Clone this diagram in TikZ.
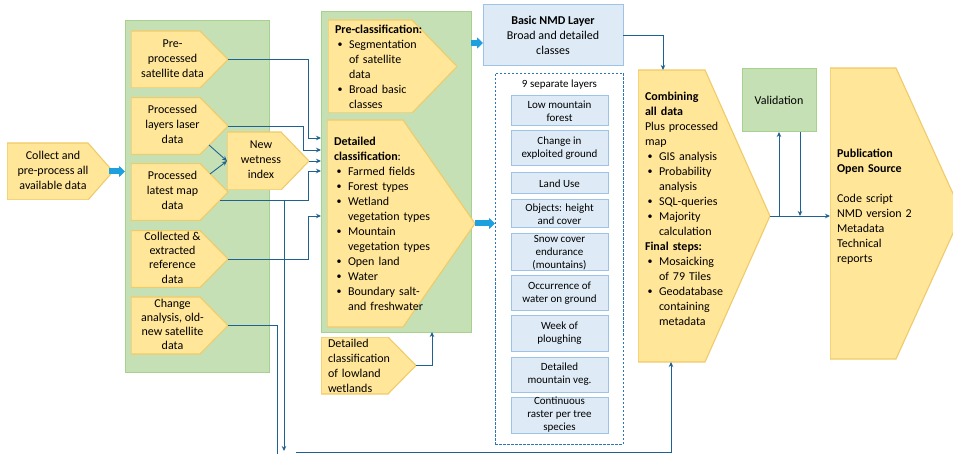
\documentclass[tikz,border=0pt]{standalone}
\usepackage{fontspec}
\setmainfont{Carlito}
\usepackage{xcolor}
\usepackage{tikz}
\usetikzlibrary{arrows.meta,positioning,calc}

\definecolor{yfill}{RGB}{255,230,153}
\definecolor{yline}{RGB}{240,203,105}
\definecolor{gfill}{RGB}{197,224,180}
\definecolor{gline}{RGB}{169,209,142}
\definecolor{bfill}{RGB}{222,235,247}
\definecolor{bline}{RGB}{157,195,230}
\definecolor{linkblue}{RGB}{31,98,145}
\definecolor{dashblue}{RGB}{46,117,182}
\definecolor{fatblue}{RGB}{30,160,222}

\newcommand{\bitem}{\makebox[14pt][l]{\hspace{2.5pt}\raisebox{0.8pt}{\fontsize{10}{10}\selectfont\textbullet}}}
\newcommand{\bcont}{\hspace*{14pt}}
\newcommand{\ltab}[1]{\begin{tabular}{@{}c@{\hspace{14pt}}}#1\end{tabular}}

\begin{document}
\begin{tikzpicture}[x=1pt,y=-1pt,>=Stealth,
  every node/.style={font=\fontsize{12}{15}\selectfont,outer sep=0pt},
  panel/.style={rectangle,fill=gfill,draw=gline,line width=1pt},
  bluebox/.style={rectangle,fill=bfill,draw=bline,line width=1pt,align=center},
  yarrow/.style={rectangle,inner xsep=7pt,inner ysep=0pt,
    path picture={\draw[fill=yfill,draw=yline,line width=1.1pt]
      (path picture bounding box.south west) -- (path picture bounding box.north west)
      -- ([xshift=-#1]path picture bounding box.north east) -- (path picture bounding box.east)
      -- ([xshift=-#1]path picture bounding box.south east) -- cycle;}},
  srcbox/.style={yarrow=28,minimum width=97,minimum height=57},
  layer/.style={bluebox,minimum width=97,inner sep=0pt,font=\fontsize{11}{13}\selectfont},
  link/.style={draw=linkblue,line width=0.9pt,-{Stealth[length=5pt,width=4.5pt]}},
  fat/.style={draw=fatblue,line width=6pt,-{Triangle[length=6pt,width=11pt]}}]
\useasboundingbox (0,0) rectangle (953,454);
\clip (0,0) rectangle (953,454);

% green panels
\node[panel,minimum width=144,minimum height=351] (inbox) at (197,196.5) {};
\node[panel,minimum width=150,minimum height=320] (clsbox) at (396,172) {};

% input data
\node[yarrow=25,minimum width=106,minimum height=57] (collect) at (60,171.5) {\ltab{Collect and\\pre-process all\\available data}};
\node[srcbox] (sat) at (179.5,59.5) {\ltab{Pre-\\processed\\satellite data}};
\node[srcbox] (laser) at (179.5,126) {\ltab{Processed\\layers laser\\data}};
\node[srcbox] (map) at (179.5,192) {\ltab{Processed\\latest map\\data}};
\node[srcbox,font=\fontsize{12}{14.2}\selectfont] (ref) at (179.5,259) {\ltab{Collected \&\\extracted\\reference\\data}};
\node[srcbox,font=\fontsize{12}{14.2}\selectfont] (change) at (179.5,325.5) {\ltab{Change\\analysis, old-\\new satellite\\data}};
\node[yarrow=28,minimum width=82,minimum height=58] (wet) at (268,161) {\ltab{New\\wetness\\index}};

% classification
\node[yarrow=45,minimum width=129,minimum height=93,text width=115,align=left] (precls) at (392.5,66.5)
  {\textbf{Pre-classification:}\\\bitem Segmentation\\\bcont of satellite\\\bcont data\\\bitem Broad basic\\\bcont classes};
\node[yarrow=72,minimum width=148,minimum height=207,text width=134,align=left] (detcls) at (401,223.5)
  {\textbf{Detailed}\\\textbf{classification}:\\\bitem Farmed fields\\\bitem Forest types\\\bitem Wetland\\\bcont vegetation types\\\bitem Mountain\\\bcont vegetation types\\\bitem Open land\\\bitem Water\\\bitem Boundary salt-\\\bcont and freshwater};
\node[yarrow=28,minimum width=95,minimum height=57,text width=81,align=left] (lowland) at (368.5,365.5)
  {Detailed\\classification\\of lowland\\wetlands};

% output layers
\node[bluebox,minimum width=140,minimum height=61] (nmd) at (553,35.5) {\textbf{Basic NMD Layer}\\Broad and detailed\\classes};
\node[rectangle,draw=dashblue,line width=0.8pt,dash pattern=on 2.5pt off 1.5pt,minimum width=128,minimum height=371] (layers) at (559,258.5) {};
\node[font=\fontsize{11}{13}\selectfont] (laytitle) at (559.5,85) {9 separate layers};
\node[layer,minimum height=30] (l1) at (559.5,111) {Low mountain\\forest};
\node[layer,minimum height=35] (l2) at (559.5,148.5) {Change in\\exploited ground};
\node[layer,minimum height=21] (l3) at (559.5,183.5) {Land Use};
\node[layer,minimum height=28] (l4) at (559.5,214) {Objects: height\\and cover};
\node[layer,minimum height=37] (l5) at (559.5,252.5) {Snow cover\\endurance\\(mountains)};
\node[layer,minimum height=35] (l6) at (559.5,293.5) {Occurrence of\\water on ground};
\node[layer,minimum height=35] (l7) at (559.5,333.5) {Week of\\ploughing};
\node[layer,minimum height=35] (l8) at (559.5,374.5) {Detailed\\mountain veg.};
\node[layer,minimum height=36] (l9) at (559.5,415) {Continuous\\raster per tree\\species};

% combining, validation, publication
\node[yarrow=65,minimum width=132,minimum height=292,text width=118,align=left] (comb) at (704,216)
  {\textbf{Combining}\\\textbf{all data}\\Plus processed\\map\\\bitem GIS analysis\\\bitem Probability\\\bcont analysis\\\bitem SQL-queries\\\bitem Majority\\\bcont calculation\\\textbf{Final steps:}\\\bitem Mosaicking\\\bcont of 79 Tiles\\\bitem Geodatabase\\\bcont containing\\\bcont metadata\\\mbox{}};
\node[panel,minimum width=74,minimum height=63] (valid) at (779,100.5) {Validation};
\node[yarrow=66,minimum width=132,minimum height=291,text width=118,align=left] (pub) at (896,213.5)
  {\textbf{Publication}\\\textbf{Open Source}\\[15pt]Code script\\NMD version 2\\Metadata\\Technical\\reports\\\mbox{}};

\coordinate (mapdown) at (284,451);
\coordinate (chgdown) at (277,460);
\coordinate (botleft) at (296,452.5);

% connectors
\draw[fat] ([xshift=-4]collect.east) -- (inbox.west |- collect.east);
\draw[fat] (clsbox.east |- 0,43) -- (nmd.west |- 0,43);
\draw[fat] (detcls.east) -- (layers.west |- detcls.east);
\draw[link] ([shift={(-19,19)}]laser.east) -- (wet.west);
\draw[link] ([shift={(-18,-18)}]map.east) -- (wet.west);
\draw[link] (sat.east) -| (308,138) -- (clsbox.west |- 0,138);
\draw[link] (laser.east) -| (303,150) -- (clsbox.west |- 0,150);
\draw[link] (wet.east) -- (clsbox.west |- wet.east);
\draw[link] ([shift={(-8,8)}]map.east) -| (308,171) -- (clsbox.west |- 0,171);
\draw[link] ([shift={(-8,8)}]map.east) -| (mapdown);
\draw[link] (ref.east) -| (308,216) -- (clsbox.west |- 0,216);
\draw[link,-] (change.east) -| (chgdown);
\draw[link] (botleft) -| ([xshift=33]comb.south west);
\draw[link] (lowland.east) -| (clsbox.south -| 432,0);
\draw[link] (nmd.east) -| (comb.north -| 663,0);
\draw[link] (comb.east) -- (pub.west |- comb.east);
\draw[link] (comb.east -| 779,0) -- (valid.south -| 779,0);
\draw[link] (valid.south -| 800,0) -- (comb.east -| 800,0);
\end{tikzpicture}
\end{document}
